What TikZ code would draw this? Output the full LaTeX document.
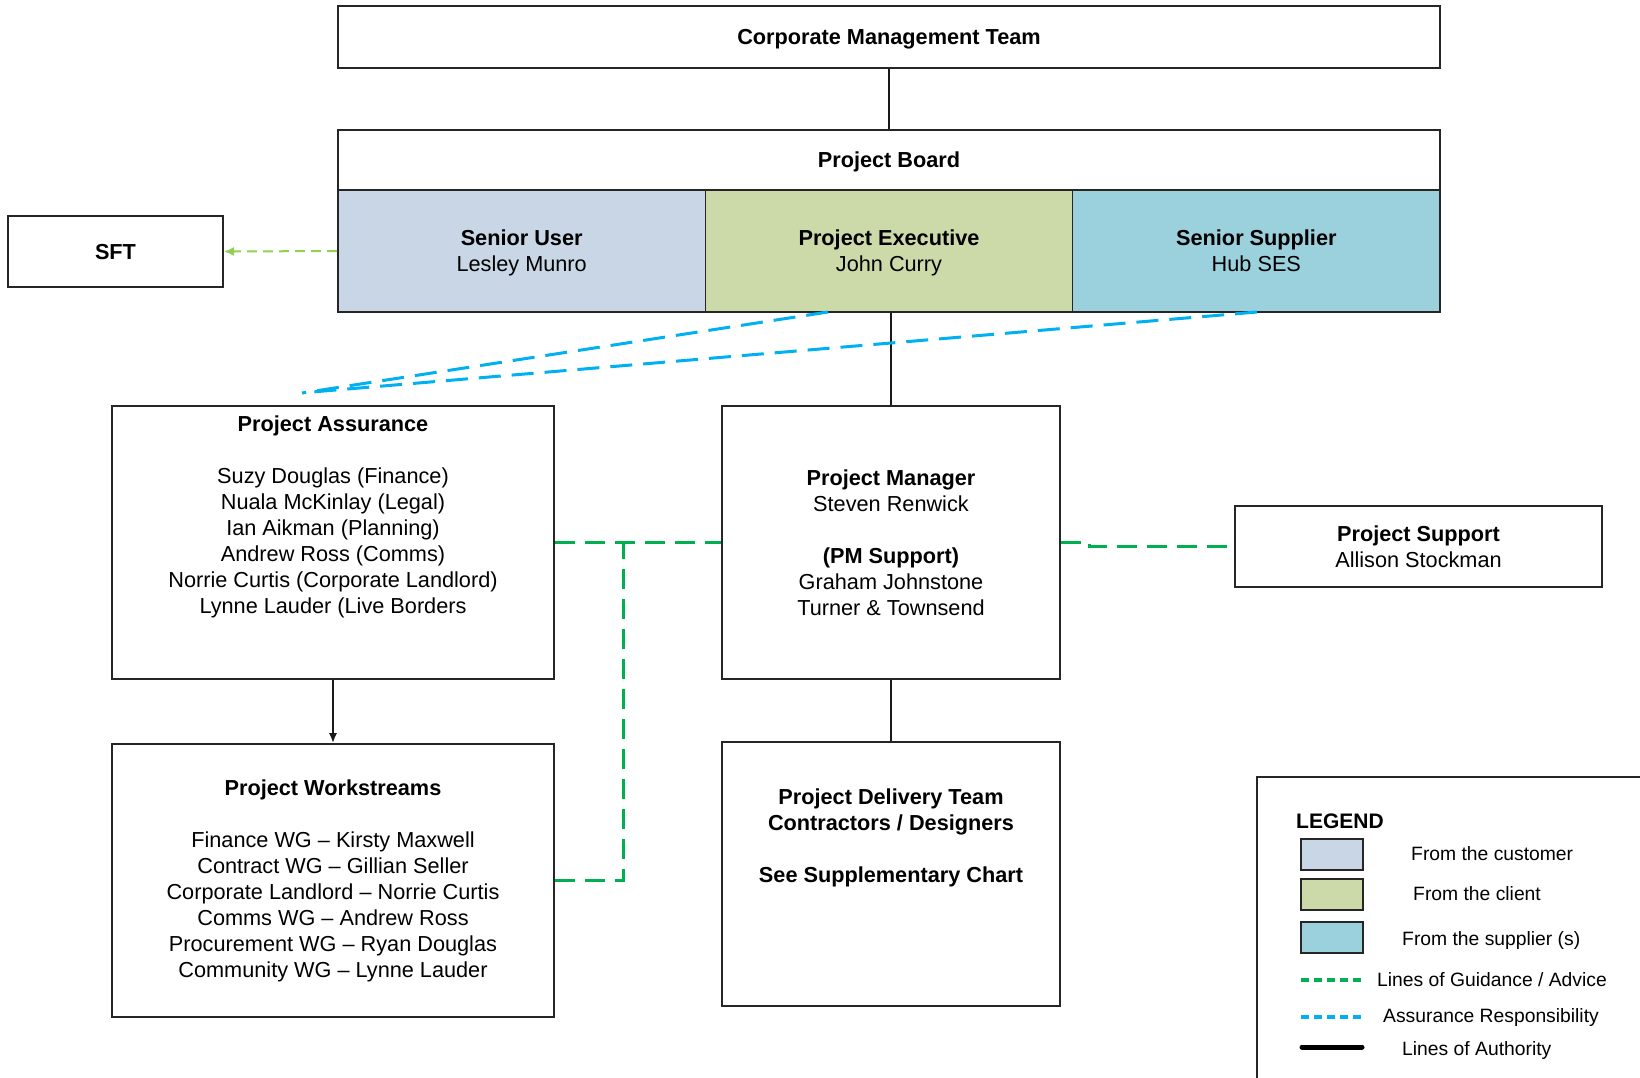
\documentclass[tikz,border=0pt]{standalone}
\usepackage{fontspec}
\setmainfont{Liberation Sans}
\usetikzlibrary{arrows.meta,calc}
\definecolor{cuBlue}{RGB}{201,214,229}
\definecolor{clGreen}{RGB}{204,218,169}
\definecolor{spBlue}{RGB}{155,208,221}
\definecolor{guideGreen}{RGB}{0,176,80}
\definecolor{assBlue}{RGB}{0,176,240}
\definecolor{sftGreen}{RGB}{146,208,80}
\begin{document}
\begin{tikzpicture}[x=1pt,y=-1pt,
  box/.style={draw=black!85,line width=1.6pt,fill=white,inner sep=0pt,align=center,text depth=0pt,font=\fontsize{21.7}{26}\selectfont},
  txt/.style={inner sep=0pt,align=center,font=\fontsize{21.7}{26}\selectfont},
  legtxt/.style={inner sep=0pt,anchor=west,font=\fontsize{19.3}{23}\selectfont},
  authority/.style={draw=black!90,line width=2pt},
  assurance/.style={draw=assBlue,line width=3pt,dash pattern=on 22pt off 11pt},
  guidance/.style={draw=guideGreen,line width=3pt,dash pattern=on 20pt off 10pt},
  swatch/.style={draw=black!85,line width=1.6pt,minimum width=62pt,minimum height=31pt,inner sep=0pt}]
\useasboundingbox (0,0) rectangle (1640,1077);

% boxes
\node[box,minimum width=1102pt,minimum height=62pt] (cmt) at (889,37) {\textbf{Corporate Management Team}};
\node[box,minimum width=1102pt,minimum height=60pt] (board) at (889,160) {\textbf{Project Board}};
\node[box,fill=cuBlue,minimum width=367.33pt,minimum height=122pt] (su) at (521.67,251) {\textbf{Senior User}\\Lesley Munro};
\node[box,fill=clGreen,minimum width=367.33pt,minimum height=122pt] (pe) at (889,251) {\textbf{Project Executive}\\John Curry};
\node[box,fill=spBlue,minimum width=367.33pt,minimum height=122pt] (ss) at (1256.33,251) {\textbf{Senior Supplier}\\Hub SES};
\node[box,minimum width=215pt,minimum height=71pt] (sft) at (115.5,251.5) {\textbf{SFT}};

\node[box,minimum width=442pt,minimum height=273pt] (pa) at (333,542.5) {};
\node[txt] (paT) at (333,516.5) {\textbf{Project Assurance}\\[26pt]Suzy Douglas (Finance)\\Nuala McKinlay (Legal)\\Ian Aikman (Planning)\\Andrew Ross (Comms)\\Norrie Curtis (Corporate Landlord)\\Lynne Lauder (Live Borders};

\node[box,minimum width=338pt,minimum height=273pt] (pm) at (891,542.5) {\textbf{Project Manager}\\Steven Renwick\\[26pt]\textbf{(PM Support)}\\Graham Johnstone\\Turner \& Townsend};

\node[box,minimum width=367pt,minimum height=81pt] (ps) at (1418.5,546.5) {\textbf{Project Support}\\Allison Stockman};

\node[box,minimum width=442pt,minimum height=273pt] (ws) at (333,880.5) {};
\node[txt] (wsT) at (333,880.5) {\textbf{Project Workstreams}\\[26pt]Finance WG – Kirsty Maxwell\\Contract WG – Gillian Seller\\Corporate Landlord – Norrie Curtis\\Comms WG – Andrew Ross\\Procurement WG – Ryan Douglas\\Community WG – Lynne Lauder};

\node[box,minimum width=338pt,minimum height=264pt] (dt) at (891,874) {};
\node[txt] (dtT) at (891,837.5) {\textbf{Project Delivery Team}\\\textbf{Contractors / Designers}\\[26pt]\textbf{See Supplementary Chart}};

% lines of authority
\draw[authority] (cmt.south) -- (board.north);
\draw[authority] (pm.north |- pe.south) -- (pm.north);
\draw[authority] (pm.south) -- (dt.north);
\draw[authority,-{Latex[length=10pt,width=8pt]}] (pa.south) -- (ws.north);

% SFT
\draw[draw=sftGreen,line width=2pt,dash pattern=on 10pt off 6pt,-{Latex[length=10pt,width=9pt]}] (su.west) -- (sft.east);

% assurance
\coordinate (a1) at (828,312);
\coordinate (a2) at (1257,312);
\coordinate (b1) at (302,393);
\coordinate (b2) at (312,392);
\draw[assurance] (a1) -- (b1);
\draw[assurance] (a2) -- (b2);

% guidance
\coordinate (j) at (623,542.5);
\draw[guidance] (pa.east) -- (pm.west);
\draw[guidance] (ws.east) -| (j);
\draw[guidance] (pm.east) -- ++(29,0) |- (ps.west);

% legend
\node[draw=black!85,line width=1.6pt,anchor=north west,minimum width=450pt,minimum height=350pt,inner sep=0pt] (leg) at (1256,776) {};
\node[inner sep=0pt,anchor=west,font=\fontsize{21}{26}\selectfont\bfseries] (legT) at (1296,821) {LEGEND};
\node[swatch,fill=cuBlue] (sw1) at (1332,854.5) {};
\node[swatch,fill=clGreen] (sw2) at (1332,894.5) {};
\node[swatch,fill=spBlue] (sw3) at (1332,937.5) {};
\node[legtxt] (l1) at (1411,854) {From the customer};
\node[legtxt] (l2) at (1413,894) {From the client};
\node[legtxt] (l3) at (1402,940) {From the supplier (s)};
\coordinate (g1) at (1301,980);
\coordinate (g2) at (1363,980);
\coordinate (h1) at (1301,1017);
\coordinate (h2) at (1363,1017);
\coordinate (k1) at (1302,1047);
\coordinate (k2) at (1362,1047);
\draw[draw=guideGreen,line width=4pt,dash pattern=on 8pt off 5pt] (g1) -- (g2);
\draw[draw=assBlue,line width=4pt,dash pattern=on 8pt off 5pt] (h1) -- (h2);
\draw[draw=black,line width=5pt,line cap=round] (k1) -- (k2);
\node[legtxt] (l4) at (1377,980) {Lines of Guidance / Advice};
\node[legtxt] (l5) at (1383,1017) {Assurance Responsibility};
\node[legtxt] (l6) at (1402,1050) {Lines of Authority};
\end{tikzpicture}
\end{document}
